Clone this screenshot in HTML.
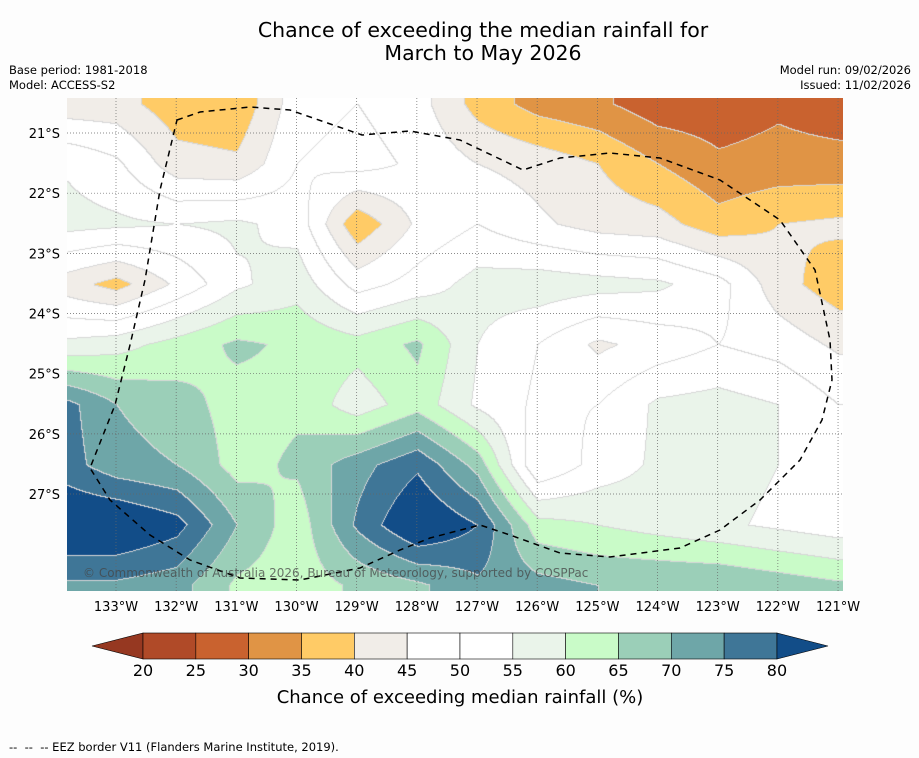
<!DOCTYPE html>
<html><head><meta charset="utf-8">
<style>
body{margin:0;background:#fdfdfd;width:919px;height:758px;overflow:hidden;font-family:"DejaVu Sans","Liberation Sans",sans-serif;}
.t{position:absolute;color:#000;white-space:nowrap;}
</style></head>
<body>
<div style="position:relative;width:919px;height:758px;">
<div class="t" style="left:0;width:966px;top:19px;text-align:center;font-size:20.5px;line-height:23px;">Chance of exceeding the median rainfall for<br>March to May 2026</div>
<div class="t" style="left:9px;top:63px;font-size:11.5px;line-height:15px;">Base period: 1981-2018<br>Model: ACCESS-S2</div>
<div class="t" style="right:8px;top:63px;font-size:11.5px;line-height:15px;text-align:right;">Model run: 09/02/2026<br>Issued: 11/02/2026</div>
<canvas id="map" width="776" height="493" style="position:absolute;left:67px;top:98px;"></canvas>
<svg id="ov" width="919" height="758" style="position:absolute;left:0;top:0;"></svg>
<div class="t" style="left:9px;top:740px;font-size:11.5px;">--&nbsp; --&nbsp; -- EEZ border V11 (Flanders Marine Institute, 2019).</div>
</div>
<script>
const lons=[134,133,132,131,130,129,128,127,126,125,124,123,122,121];
const lats=[20.5,21.5,22.5,23.5,24.5,25.5,26.5,27.5,28.5];
const row0=[42,42,37,36,48,50,47,38,33,31,27,27,29,27];
const row1=[55,51,42,41,50,52,49,45,43,40,35,31,32,32];
const row2=[57,56,55,56,53,36,46,50,46,43,42,37,40,41];
const row3=[43,38,46,54,58,48,52,57,58,57,56,52,42,37];
const row4=[56,58,62,66,64,62,66,55,50,44,47,50,48,44];
const row5=[78,70,67,63,64,57,63,54,49,50,56,57,55,50];
const row6=[78,72,70,63,66,73,79,68,45,52,56,57,55,51];
const row7=[86,86,82,70,62,76,86,80,62,60,58,56,54,52];
const row8=[74,74,72,64,62,66,69,74,72,70,70,70,68,66];
const grid=[row0,row1,row2,row3,row4,row5,row6,row7,row8];
const levels=[20,25,30,35,40,45,50,55,60,65,70,75,80];
const colors=["#963821","#b04a28","#c9622f","#e09445","#ffcb66","#f1ede8","#ffffff","#ffffff","#eaf4ea","#c9fbc8","#9bcfb8","#6ea6a8","#3f7697","#124d88"];
const lonTicks=[133,132,131,130,129,128,127,126,125,124,123,122,121];
const latTicks=[21,22,23,24,25,26,27];

const PX=60.17;
function xOf(lon){return 116+(133-lon)*PX;}
function yOf(lat){return 133+(lat-21)*PX;}
function lonOf(x){return 133-(x-116)/PX;}
function latOf(y){return 21+(y-133)/PX;}
function binOf(v){let i=0;while(i<levels.length&&v>=levels[i])i++;return i;}
function sample(lon,lat){
  let fi=(lons[0]-lon); fi=Math.max(0,Math.min(lons.length-1.0001,fi));
  let fj=(lat-lats[0]); fj=Math.max(0,Math.min(lats.length-1.0001,fj));
  const i=Math.floor(fi),j=Math.floor(fj),a=fi-i,b=fj-j;
  return grid[j][i]*(1-a)*(1-b)+grid[j][i+1]*a*(1-b)+grid[j+1][i]*(1-a)*b+grid[j+1][i+1]*a*b;
}
const cv=document.getElementById('map'),ctx=cv.getContext('2d');
const img=ctx.createImageData(776,493);
const rgb=colors.map(c=>[parseInt(c.substr(1,2),16),parseInt(c.substr(3,2),16),parseInt(c.substr(5,2),16)]);
const bins=new Int8Array(776*493);
for(let y=0;y<493;y++)for(let x=0;x<776;x++){
  bins[y*776+x]=binOf(sample(lonOf(x+67),latOf(y+98)));
}
for(let y=0;y<493;y++)for(let x=0;x<776;x++){
  const k=y*776+x,b=bins[k];let c=rgb[b];
  const edge=(x>0&&bins[k-1]!==b)||(y>0&&bins[k-776]!==b);
  if(edge){c=[215,215,215];}
  img.data[k*4]=c[0];img.data[k*4+1]=c[1];img.data[k*4+2]=c[2];img.data[k*4+3]=255;
}
ctx.putImageData(img,0,0);

const NS='http://www.w3.org/2000/svg';
const ov=document.getElementById('ov');
function mk(tag,attrs,parent){const e=document.createElementNS(NS,tag);for(const k in attrs)e.setAttribute(k,attrs[k]);(parent||ov).appendChild(e);return e;}
lonTicks.forEach(l=>{
  const x=xOf(l);
  if(x<843){const g=mk('line',{x1:x,x2:x,y1:98,y2:591,stroke:'#666','stroke-width':0.7,'stroke-dasharray':'1,2'});
  
  }
  const t=mk('text',{x:x,y:611,'font-size':13,'text-anchor':'middle','font-family':'DejaVu Sans, sans-serif'});
  t.textContent=l+'°W';
  
  
});
latTicks.forEach(l=>{
  const y=yOf(l);
  const g=mk('line',{x1:67,x2:843,y1:y,y2:y,stroke:'#666','stroke-width':0.7,'stroke-dasharray':'1,2'});
  
  
  const t=mk('text',{x:60,y:y+5,'font-size':13,'text-anchor':'end','font-family':'DejaVu Sans, sans-serif'});
  t.textContent=l+'°S';
  
  
});
const eez=mk('path',{d:'M177,120 L200,112 L250,107 L290,110 L362,135 L410,131 L460,140 L523,170 L560,158 L610,153 L660,158 L720,180 L780,220 L815,270 L830,340 L832,380 L822,420 L800,460 L760,500 L720,530 L680,548 L610,557 L560,553 L510,535 L480,525 L430,538 L400,550 L360,568 L300,580 L240,578 L190,560 L150,535 L110,500 L90,468 L115,405 L130,345 L145,280 L160,190 Z',fill:'none',stroke:'#000','stroke-width':1.5,'stroke-dasharray':'6,5'});


const cp=mk('text',{x:83,y:577,'font-size':12,fill:'rgba(70,70,70,0.75)','font-family':'DejaVu Sans, sans-serif'});
cp.textContent='© Commonwealth of Australia 2026, Bureau of Meteorology, supported by COSPPac';


const cbX0=143,cbW=52.83,cbY=633,cbH=26;
const lo=mk('polygon',{points:`${cbX0},${cbY} ${cbX0},${cbY+cbH} 92,${cbY+cbH/2}`,fill:colors[0],stroke:'#000','stroke-width':0.6});


for(let i=0;i<levels.length-1;i++){
  const r=mk('rect',{x:cbX0+i*cbW,y:cbY,width:cbW,height:cbH,fill:colors[i+1],stroke:'#000','stroke-width':0.6});
  
  
}
const xe=cbX0+(levels.length-1)*cbW;
const hi=mk('polygon',{points:`${xe},${cbY} ${xe},${cbY+cbH} 828,${cbY+cbH/2}`,fill:colors[colors.length-1],stroke:'#000','stroke-width':0.6});


levels.forEach((l,i)=>{
  const t=mk('text',{x:cbX0+i*cbW,y:676,'font-size':16,'text-anchor':'middle','font-family':'DejaVu Sans, sans-serif'});
  t.textContent=l;
  
  
});
const ct=mk('text',{x:460,y:703,'font-size':18,'text-anchor':'middle','font-family':'DejaVu Sans, sans-serif'});
ct.textContent='Chance of exceeding median rainfall (%)';


</script>
</body></html>
